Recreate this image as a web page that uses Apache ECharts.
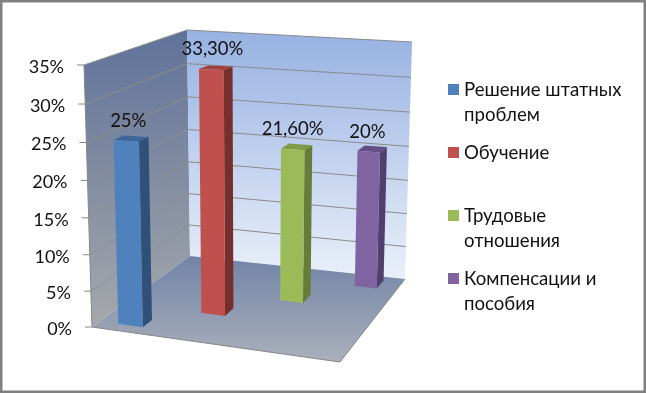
<!DOCTYPE html>
<html>
<head>
<meta charset="utf-8">
<style>
  html, body { margin: 0; padding: 0; background: #fff; }
  #chart { width: 646px; height: 393px; }
</style>
</head>
<body>
<div id="chart"></div>
<script src="https://cdn.jsdelivr.net/npm/echarts@6/dist/echarts.min.js"></script>
<script>
var categories = ['Решение штатных\nпроблем', 'Обучение', 'Трудовые\nотношения', 'Компенсации и\nпособия']
var values = [25, 33.3, 21.6, 20]
var tickValues = [0, 5, 10, 15, 20, 25, 30, 35]

var frontColors = ['#4f81bd', '#c0504d', '#9bbb59', '#8064a2']
var sideColors = ['#2f5078', '#772f2d', '#667c39', '#523d6d']
var topColors = ['#3d659a', '#a03f3c', '#7e9a46', '#654e85']

var fontFamily = 'Lato, "Noto Sans", sans-serif'
var grid = { left: 92, top: 65, width: 248, height: 263 }

// углы коробки на экране: передний левый, передний правый, задний правый, задний левый
var floorBox = [[92, 327], [340, 362], [405, 279], [190, 256]]
var topBox = [[84, 65], [345, 72], [412, 42], [187, 30]]
var perspective = 1.05

// экранная точка из координат плоскости графика и глубины 0..1
function place(x, y, depth) {
  var u = (x - grid.left) / grid.width
  var t = (grid.top + grid.height - y) / grid.height
  var f = t / (t + perspective * (1 - t))
  var weights = [(1 - u) * (1 - depth), u * (1 - depth), u * depth, (1 - u) * depth]
  var px = 0
  var py = 0
  for (var i = 0; i < 4; i++) {
    px += weights[i] * (floorBox[i][0] + (topBox[i][0] - floorBox[i][0]) * f)
    py += weights[i] * (floorBox[i][1] + (topBox[i][1] - floorBox[i][1]) * f)
  }
  return [px, py]
}

function poly(points, fill, z2) {
  return { type: 'polygon', shape: { points: points }, style: { fill: fill, stroke: null }, z2: z2 || 1, silent: true }
}

function line(a, b, color, width) {
  return {
    type: 'line',
    shape: { x1: a[0], y1: a[1], x2: b[0], y2: b[1] },
    style: { stroke: color, lineWidth: width || 1 },
    z2: 2,
    silent: true
  }
}

function gradient(from, to) {
  return new echarts.graphic.LinearGradient(0, 0, 0, 1, [
    { offset: 0, color: from },
    { offset: 1, color: to }
  ])
}

// стены, пол, сетка и подписи оси
function renderBox(params, api) {
  var left = grid.left
  var right = grid.left + grid.width
  var children = []
  var y0 = api.coord([0, 0])[1]
  var yMax = api.coord([0, 35])[1]

  children.push(poly([place(left, y0, 0), place(left, yMax, 0), place(left, yMax, 1), place(left, y0, 1)],
    gradient('#5f7299', '#a6a8ab')))
  children.push(poly([place(left, y0, 1), place(left, yMax, 1), place(right, yMax, 1), place(right, y0, 1)],
    gradient('#97b1e2', '#eaf0fa')))
  children.push(poly([place(left, y0, 1), place(right, y0, 1), place(right, y0, 0), place(left, y0, 0)],
    gradient('#7284a7', '#aab0bb')))

  tickValues.forEach(function (v) {
    var y = api.coord([0, v])[1]
    var front = place(left, y, 0)
    var corner = place(left, y, 1)
    var end = place(right, y, 1)
    if (v > 0) {
      children.push(line(front, corner, '#8f8f8f'))
      children.push(line(corner, end, '#8a8a8a'))
    }
    children.push(line([front[0] - 7, front[1]], front, '#868686'))
    children.push({
      type: 'text',
      style: {
        text: v + '%',
        x: front[0] - 20,
        y: front[1] + 2,
        align: 'right',
        verticalAlign: 'middle',
        font: '18px ' + fontFamily,
        fill: '#111'
      },
      z2: 5
    })
  })

  children.push(line(place(left, y0, 0), place(left, yMax, 0), '#868686'))
  children.push(line(place(left, y0, 0), place(right, y0, 0), '#868686'))
  children.push(line(place(right, y0, 0), place(right, y0, 1), '#868686'))
  return { type: 'group', children: children }
}

function valueText(v) {
  return Number.isInteger(v) ? v + '%' : v.toFixed(2).replace('.', ',') + '%'
}

// столбец: передняя, боковая и верхняя грани
function renderBar(params, api) {
  var i = api.value(0)
  var top = api.coord([i, api.value(1)])
  var base = api.coord([i, 0])[1]
  var half = api.size([1, 0])[0] * 0.2
  var x0 = top[0] - half - i
  var x1 = top[0] + half - i
  var d0 = 0.08 + 0.26 * i
  var d1 = d0 + 0.1
  var labelAt = place(top[0], top[1], d0)

  return {
    type: 'group',
    children: [
      poly([place(x1, base, d0), place(x1, top[1], d0), place(x1, top[1], d1), place(x1, base, d1)], sideColors[i], 3),
      poly([place(x0, top[1], d0), place(x1, top[1], d0), place(x1, top[1], d1), place(x0, top[1], d1)], topColors[i], 3),
      poly([place(x0, base, d0), place(x0, top[1], d0), place(x1, top[1], d0), place(x1, base, d0)], frontColors[i], 4),
      {
        type: 'text',
        style: {
          text: valueText(api.value(1)),
          x: labelAt[0] + 2 - 2 * i,
          y: labelAt[1] - 20,
          align: 'center',
          verticalAlign: 'middle',
          font: '18.5px ' + fontFamily,
          fill: '#111'
        },
        z2: 6
      }
    ]
  }
}

var barSeries = categories.map(function (name, i) {
  return {
    name: name,
    type: 'custom',
    renderItem: renderBar,
    clip: false,
    z: 3,
    itemStyle: { color: frontColors[i] },
    encode: { x: 0, y: 1 },
    data: [[i, values[i]]]
  }
})

var myChart = echarts.init(document.getElementById('chart'), null, { renderer: 'canvas' })
myChart.setOption({
  animation: false,
  backgroundColor: '#fff',
  grid: grid,
  xAxis: { type: 'category', show: false, data: categories },
  yAxis: { type: 'value', show: false, min: 0, max: 35, interval: 5 },
  legend: {
    orient: 'vertical',
    left: 448,
    top: 52,
    padding: 0,
    itemWidth: 11,
    itemHeight: 11,
    itemGap: -12,
    icon: 'rect',
    selectedMode: false,
    textStyle: { fontFamily: fontFamily, fontSize: 18.6, lineHeight: 25, color: '#111' },
    // пустые строки держат значок у первой строки текста
    formatter: function (name) {
      return name.indexOf('\n') >= 0 ? '\n' + name : '\n' + name + '\n'
    },
    data: categories
  },
  graphic: [{
    type: 'rect',
    shape: { x: 1, y: 1, width: 644, height: 391 },
    style: { fill: null, stroke: '#808080', lineWidth: 3 },
    silent: true
  }],
  series: [{
    type: 'custom',
    renderItem: renderBox,
    clip: false,
    silent: true,
    z: 1,
    encode: { x: 0, y: 1 },
    data: [[0, 0]]
  }].concat(barSeries)
})
</script>
</body>
</html>
